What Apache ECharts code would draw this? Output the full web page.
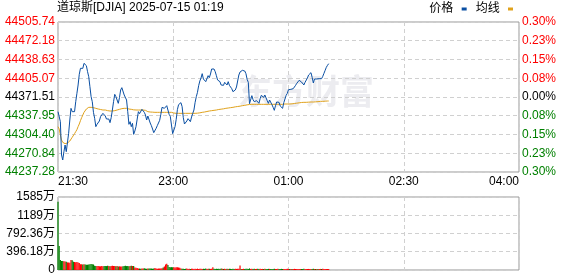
<!DOCTYPE html>
<html><head><meta charset="utf-8">
<script src="https://cdn.jsdelivr.net/npm/echarts@6/dist/echarts.min.js"></script>
<style>html,body{margin:0;padding:0;background:#fff}#c{width:578px;height:276px}</style>
</head><body><div id="c"></div>
<script>
const titleText = '道琼斯[DJIA] 2025-07-15 01:19';
const legendNames = ['价格', '均线'];
const timeLabels = ['21:30', '23:00', '01:00', '02:30', '04:00'];
const totalMinutes = 390;
const prevClose = 44371.51;
const priceMin = 44237.28;
const priceMax = 44505.74;
const volMax = 1584.72;

const price = [
44345.26,44342.28,44327.36,44267.70,44258.75,44273.67,44285.60,44273.67,44276.65,44306.48,
44330.34,44351.22,44345.26,44344.07,44345.26,44363.16,44378.07,44392.99,44412.08,44422.82,
44425.80,44422.82,44431.77,44428.78,44427.59,44416.85,44407.90,44390.00,44372.11,44363.16,
44344.07,44333.33,44318.41,44322.59,44322.59,44328.55,44336.31,44338.10,44342.28,44340.49,
44337.50,44332.13,44330.34,44332.13,44325.57,44334.52,44348.24,44363.16,44376.28,44372.11,
44373.89,44360.17,44370.32,44384.04,44388.21,44385.23,44375.09,44373.89,44366.14,44345.26,
44322.59,44327.36,44318.41,44324.38,44304.69,44310.66,44318.41,44332.13,44345.26,44341.68,
44339.29,44349.43,44350.03,44344.07,44339.29,44330.34,44337.50,44336.31,44324.97,44320.20,
44314.23,44307.67,44310.66,44315.43,44320.20,44320.80,44329.75,44340.49,44353.01,44350.63,
44351.22,44351.22,44356.00,44354.21,44340.49,44336.91,44321.40,44305.88,44308.27,44318.41,
44331.54,44348.84,44357.79,44359.58,44361.37,44354.21,44334.52,44323.18,44322.59,44328.55,
44332.73,44333.33,44327.36,44335.71,44342.28,44348.24,44361.97,44372.11,44379.86,44391.79,
44400.15,44405.52,44413.27,44403.73,44401.34,44398.95,44401.94,44409.69,44406.11,44412.68,
44421.62,44422.82,44421.62,44416.85,44409.69,44401.94,44399.55,44398.95,44392.99,44393.58,
44392.39,44397.76,44398.95,44392.99,44398.95,44392.39,44389.41,44386.42,44381.05,44380.46,
44384.04,44389.41,44400.15,44410.88,44416.25,44415.66,44419.24,44419.83,44418.04,44413.27,
44403.13,44397.76,44359.58,44361.37,44373.89,44366.74,44363.16,44363.75,44364.95,44361.97,
44360.17,44368.53,44374.49,44375.09,44370.91,44375.09,44373.89,44364.95,44360.17,44366.14,
44364.95,44357.79,44353.01,44347.64,44356.00,44362.56,44364.95,44361.97,44355.40,44353.61,
44351.22,44361.37,44367.93,44374.49,44378.07,44384.63,44382.25,44385.23,44384.04,44386.42,
44388.81,44392.39,44395.97,44398.95,44401.34,44404.32,44398.36,44397.16,44392.99,44397.76,
44400.74,44405.52,44410.88,44412.68,44415.06,44406.71,44396.57,44403.73,44403.13,44403.73,
44403.13,44404.32,44405.52,44404.32,44408.50,44413.87,44419.24,44424.61,44428.19,44431.17
];

const avgPrice = [
44318.41,44314.23,44303.50,44294.55,44290.37,44288.58,44287.98,44288.58,44289.18,44290.37,
44292.76,44295.74,44299.32,44302.31,44305.88,44309.46,44313.04,44318.41,44323.18,44329.15,
44334.52,44339.29,44344.07,44347.64,44350.03,44351.82,44353.01,44353.01,44353.01,44352.72,
44352.42,44351.82,44351.22,44350.63,44350.03,44349.43,44349.14,44348.84,44348.24,44348.24,
44348.24,44347.64,44347.05,44347.05,44346.45,44346.45,44346.45,44346.45,44347.05,44347.64,
44348.24,44348.84,44349.43,44350.03,44350.63,44351.22,44351.22,44351.22,44351.22,44350.63,
44350.03,44349.73,44349.43,44348.84,44348.54,44348.24,44348.24,44348.24,44348.24,44348.24,
44348.24,44348.24,44348.24,44348.24,44347.64,44346.45,44345.26,44344.96,44344.66,44344.66,
44344.36,44344.07,44344.07,44344.07,44344.07,44344.07,44344.07,44344.07,44344.07,44344.07,
44344.07,44344.07,44344.07,44344.07,44344.07,44344.07,44344.07,44343.47,44342.87,44342.28,
44342.28,44342.28,44342.28,44342.28,44342.28,44342.28,44342.28,44342.28,44342.28,44342.28,
44342.28,44342.28,44342.28,44342.28,44342.28,44342.28,44342.28,44342.28,44342.57,44342.87,
44343.17,44343.47,44344.07,44344.36,44344.66,44345.26,44345.56,44346.15,44346.45,44346.75,
44347.05,44347.35,44347.64,44347.94,44348.24,44348.84,44349.14,44349.43,44349.73,44350.03,
44350.33,44350.63,44351.22,44351.52,44351.82,44352.12,44352.42,44352.72,44353.01,44353.61,
44353.91,44354.21,44354.50,44354.80,44355.10,44355.40,44356.00,44356.29,44356.59,44357.19,
44357.49,44357.79,44358.08,44358.38,44358.38,44358.38,44358.38,44358.38,44358.38,44358.38,
44358.38,44358.38,44358.38,44358.38,44358.38,44358.38,44358.38,44358.38,44358.38,44358.38,
44358.38,44358.38,44358.38,44358.38,44358.38,44358.38,44358.38,44358.38,44358.38,44358.38,
44358.38,44358.68,44358.98,44358.98,44358.98,44358.98,44358.98,44358.98,44359.28,44359.58,
44359.87,44360.17,44360.47,44360.77,44361.07,44361.37,44361.67,44361.67,44361.97,44361.97,
44361.97,44362.26,44362.26,44362.26,44362.56,44362.56,44362.56,44362.56,44362.86,44363.16,
44363.16,44363.46,44363.75,44363.75,44363.75,44363.75,44364.05,44364.05,44364.35,44364.35
];

// volume in 万
const volume = [
1483,521,217,195,195,190,185,180,165,165,
160,217,210,180,174,170,174,165,150,125,
125,120,125,118,112,115,120,125,130,125,
120,90,87,85,87,82,80,85,80,87,
87,85,90,87,80,87,90,87,85,80,
87,75,80,78,75,80,87,90,85,87,
80,87,90,87,85,55,50,45,30,32,
28,35,30,40,30,28,32,30,35,30,
28,30,45,30,28,32,30,35,40,55,
75,120,135,110,65,60,62,58,60,55,
60,58,55,50,30,25,28,22,25,30,
24,26,22,28,25,23,27,24,30,22,
25,28,23,26,24,30,22,25,27,24,
26,60,25,23,28,24,26,22,30,25,
23,27,24,26,22,28,25,24,27,23,
26,24,28,25,100,24,22,26,23,25,
27,22,35,24,26,23,25,22,24,26,
22,25,23,24,22,26,23,22,25,24,
22,24,23,25,22,24,26,22,23,25,
22,24,23,22,25,23,22,24,22,23,
25,22,24,23,22,24,22,23,25,22,
24,22,23,22,24,23,25,22,23,22,
24,22,23,22,25,23,22,24,22,23
];

const FONT = "'Liberation Sans','Noto Sans CJK SC',sans-serif";
const RED = '#ff0000', GREEN = '#008000';
const gridLine = { show: true, lineStyle: { color: '#d0d0d0', type: [4, 3], width: 1 } };
const xInterval = totalMinutes / (timeLabels.length - 1);
const yInterval = (priceMax - priceMin) / 8;

function priceColor(v) {
  if (v > prevClose + 0.005) return RED;
  if (v < prevClose - 0.005) return GREEN;
  return '#000';
}
function volLabel(v) {
  if (v === 0) return '0';
  if (v >= 1000) return Math.round(v) + '万';
  return v.toFixed(2) + '万';
}

const chart = echarts.init(document.getElementById('c'), null, { renderer: 'canvas' });
chart.setOption({
  animation: false,
  backgroundColor: '#fff',
  textStyle: { fontFamily: FONT, fontSize: 12 },
  title: {
    text: titleText, left: 57, top: 2, padding: 0,
    textStyle: { fontFamily: FONT, fontSize: 12, fontWeight: 'normal', color: '#000' }
  },
  legend: {
    data: legendNames, right: 65, top: 3, padding: 0, align: 'right',
    icon: 'rect', itemWidth: 5, itemHeight: 3, itemGap: 9,
    formatter: n => n + ' ',
    textStyle: { fontFamily: FONT, fontSize: 12, color: '#000' }
  },
  graphic: [{
    type: 'text', left: 238, top: 78, z: -10, silent: true,
    style: { text: '东方财富', fontSize: 34, fontWeight: 'bold', fill: '#ececf0', fontFamily: FONT }
  }],
  grid: [
    { left: 58, top: 22, width: 461, height: 150, show: true, borderColor: '#999', borderWidth: 1, backgroundColor: 'transparent' },
    { left: 58, top: 197, width: 461, height: 73, show: true, borderColor: '#999', borderWidth: 1, backgroundColor: 'transparent' }
  ],
  xAxis: [
    {
      type: 'value', gridIndex: 0, min: 0, max: totalMinutes, interval: xInterval,
      axisLine: { show: false }, axisTick: { show: false }, splitLine: gridLine,
      axisLabel: {
        margin: 4, color: '#000', fontSize: 12, fontFamily: FONT,
        alignMinLabel: 'left', alignMaxLabel: 'right',
        formatter: v => timeLabels[Math.round(v / xInterval)]
      }
    },
    {
      type: 'value', gridIndex: 1, min: 0, max: totalMinutes, interval: xInterval,
      axisLine: { show: false }, axisTick: { show: false }, splitLine: gridLine,
      axisLabel: { show: false }
    }
  ],
  yAxis: [
    {
      type: 'value', gridIndex: 0, position: 'left', min: priceMin, max: priceMax, interval: yInterval,
      axisLine: { show: false }, axisTick: { show: false }, splitLine: gridLine,
      axisLabel: { margin: 3, fontSize: 12, fontFamily: FONT, formatter: v => v.toFixed(2), color: v => priceColor(v) }
    },
    {
      type: 'value', gridIndex: 0, position: 'right', min: priceMin, max: priceMax, interval: yInterval,
      axisLine: { show: false }, axisTick: { show: false }, splitLine: { show: false },
      axisLabel: {
        margin: 3, fontSize: 12, fontFamily: FONT,
        formatter: v => Math.abs((v - prevClose) / prevClose * 100).toFixed(2) + '%',
        color: v => priceColor(v)
      }
    },
    {
      type: 'value', gridIndex: 1, position: 'left', min: 0, max: volMax, interval: volMax / 4,
      axisLine: { show: false }, axisTick: { show: false }, splitLine: gridLine,
      axisLabel: { margin: 3, fontSize: 12, fontFamily: FONT, color: '#000', formatter: volLabel }
    }
  ],
  series: [
    {
      name: legendNames[0], type: 'line', xAxisIndex: 0, yAxisIndex: 0,
      data: price.map((v, i) => [i, v]), showSymbol: false, symbol: 'none',
      lineStyle: { color: '#0a4fa3', width: 1 }, itemStyle: { color: '#0a4fa3' }, z: 5
    },
    {
      name: legendNames[1], type: 'line', xAxisIndex: 0, yAxisIndex: 0,
      data: avgPrice.map((v, i) => [i, v]), showSymbol: false, symbol: 'none',
      lineStyle: { color: '#e0a21c', width: 1 }, itemStyle: { color: '#e0a21c' }, z: 4
    },
    {
      name: 'volume', type: 'bar', xAxisIndex: 1, yAxisIndex: 2, barWidth: 1.2,
      data: volume.map((v, i) => ({
        value: [i, v],
        itemStyle: { color: (i === 0 ? price[0] >= prevClose : price[i] >= price[i - 1]) ? RED : GREEN }
      }))
    }
  ]
});
</script></body></html>
